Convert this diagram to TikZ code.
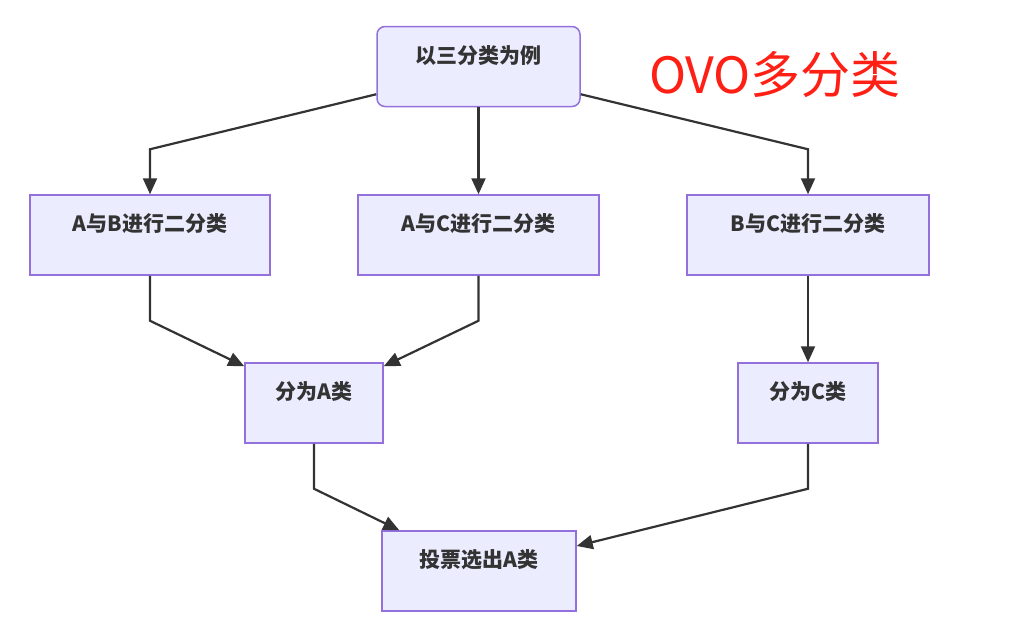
\documentclass[tikz,border=0pt]{standalone}
\usepackage{fontspec}
\setmainfont{Noto Sans CJK SC}
\usetikzlibrary{arrows.meta}
\definecolor{boxfill}{HTML}{ECECFF}
\definecolor{boxline}{HTML}{9370DB}
\definecolor{ink}{HTML}{333333}
\definecolor{titlered}{HTML}{FF2015}

\begin{document}
\begin{tikzpicture}[x=1pt,y=-1pt,
  box/.style={draw=boxline, fill=boxfill, line width=1.5pt, inner sep=0pt,
    minimum height=80pt, text=ink, font=\fontsize{21}{24}\selectfont\bfseries,
    text height=14pt, text depth=21pt},
  link/.style={draw=ink, line width=2.2pt, -{Triangle[length=16pt,width=14pt]}}]
\useasboundingbox (0,0) rectangle (1009,627);
\node[box, rounded corners=8pt, minimum width=203pt] (top) at (478.5,66.5) {以三分类为例};
\node[box, minimum width=240pt] (AB) at (150,235) {A与B进行二分类};
\node[box, minimum width=241pt] (AC) at (478.5,235) {A与C进行二分类};
\node[box, minimum width=242pt] (BC) at (808,235) {B与C进行二分类};
\node[box, minimum width=138pt] (clsA) at (314,403) {分为A类};
\node[box, minimum width=140pt] (clsC) at (808,403) {分为C类};
\node[box, minimum width=194pt] (vote) at (479,571) {投票选出A类};
\node[text=titlered, font=\fontsize{50}{58}\selectfont] (title) at (775,75) {OVO多分类};
% edges
\draw[link] ([yshift=13pt]top.south west) -- ([yshift=45pt]AB.north) -- (AB.north);
\draw[link] (top.south) -- (AC.north);
\draw[link] ([yshift=13pt]top.south east) -- ([yshift=45pt]BC.north) -- (BC.north);
\draw[link] (AB.south) -- ([yshift=-45pt]AB.south) -- ([yshift=-4pt]clsA.north west);
\draw[link] (AC.south) -- ([yshift=-45pt]AC.south) -- ([yshift=-4pt]clsA.north east);
\draw[link] (BC.south) -- (clsC.north);
\draw[link] (clsA.south) -- ([yshift=-45pt]clsA.south) -- ([xshift=18pt]vote.north west);
\draw[link] (clsC.south) -- ([yshift=-45pt]clsC.south) -- ([yshift=25pt]vote.east);
\end{tikzpicture}
\end{document}
